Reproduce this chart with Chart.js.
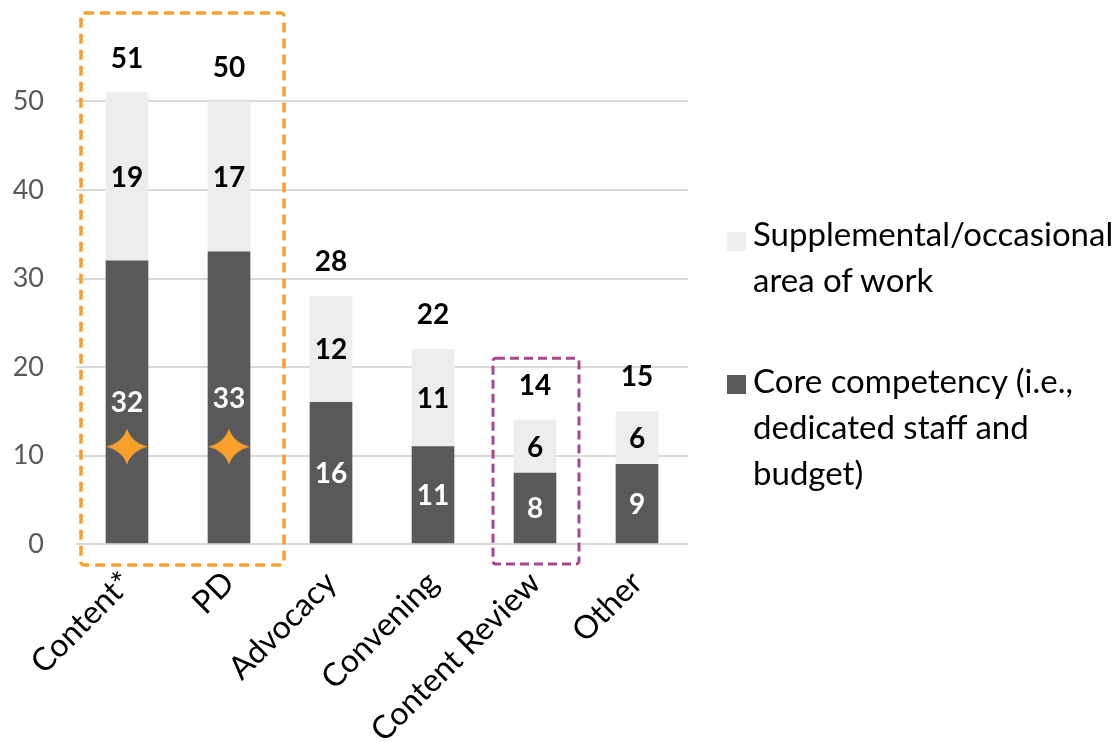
<!DOCTYPE html>
<html>
<head>
<meta charset="utf-8">
<title>Areas of work</title>
<script src="https://cdn.jsdelivr.net/npm/chart.js@4.4.1/dist/chart.umd.min.js"></script>
<style>
  body { margin: 0; background: #fff; }
  #wrap { position: relative; width: 1118px; height: 742px; }
  #legend { position: absolute; left: 0; top: 0; font-family: Lato, sans-serif; font-size: 33px; color: #000; }
  .item { position: absolute; left: 753px; line-height: 46px; white-space: nowrap; }
  .swatch { position: absolute; left: 727px; width: 19px; height: 19px; }
</style>
</head>
<body>
<div id="wrap">
  <canvas id="chart"></canvas>
  <div id="legend"></div>
</div>
<script>
// Data
const categories = ["Content*", "PD", "Advocacy", "Convening", "Content Review", "Other"];
const coreValues = [32, 33, 16, 11, 8, 9];
const supplementalValues = [19, 17, 12, 11, 6, 6];
const totalValues = [51, 50, 28, 22, 14, 15];
const starValues = [11, 11, null, null, null, null];
const yTicks = [0, 10, 20, 30, 40, 50];
const supplementalLabel = ["Supplemental/occasional", "area of work"];
const coreLabel = ["Core competency (i.e.,", "dedicated staff and", "budget)"];

const FONT = "Lato, sans-serif";
const DARK = "#595959";
const LIGHT = "#EDEDED";
const ORANGE = "#F7A02C";
const PURPLE = "#A8468F";

// four-pointed star used as point image
function makeStar(w, h, color) {
  const c = document.createElement("canvas");
  c.width = w;
  c.height = h;
  const ctx = c.getContext("2d");
  const cx = w / 2, cy = h / 2;
  const a = w * 0.11, b = h * 0.11;
  ctx.fillStyle = color;
  ctx.beginPath();
  ctx.moveTo(cx, 0);
  ctx.quadraticCurveTo(cx + a, cy - b, w, cy);
  ctx.quadraticCurveTo(cx + a, cy + b, cx, h);
  ctx.quadraticCurveTo(cx - a, cy + b, 0, cy);
  ctx.quadraticCurveTo(cx - a, cy - b, cx, 0);
  ctx.fill();
  return c;
}

// value labels inside segments and totals on top
const barLabels = {
  id: "barLabels",
  afterDatasetsDraw(chart) {
    const ctx = chart.ctx;
    const y = chart.scales.y;
    ctx.save();
    ctx.font = `bold 28px ${FONT}`;
    ctx.textAlign = "center";
    ctx.textBaseline = "middle";
    chart.data.datasets.forEach((ds, di) => {
      if (!ds.labelColor) return;
      chart.getDatasetMeta(di).data.forEach((bar, i) => {
        const p = bar.getProps(["x", "y", "base"], true);
        ctx.fillStyle = ds.labelColor;
        ctx.fillText(ds.data[i], p.x, (p.y + p.base) / 2 + 1);
      });
    });
    const meta = chart.getDatasetMeta(0);
    ctx.fillStyle = "#000";
    totalValues.forEach((t, i) => {
      ctx.fillText(t, meta.data[i].x, y.getPixelForValue(t) - 34);
    });
    ctx.restore();
  }
};

// dashed highlight boxes
const boxes = [
  { from: 0, to: 1, top: 60, color: ORANGE, left: 46, right: 55, bottom: 21, width: 3.5, dash: [10, 6] },
  { from: 4, to: 4, top: 21, color: PURPLE, left: 42, right: 44, bottom: 20, width: 3, dash: [9, 5] }
];
const highlightBoxes = {
  id: "highlightBoxes",
  afterDraw(chart) {
    const { ctx, scales: { x, y } } = chart;
    ctx.save();
    boxes.forEach(b => {
      const x0 = x.getPixelForValue(b.from) - b.left;
      const x1 = x.getPixelForValue(b.to) + b.right;
      const y0 = y.getPixelForValue(b.top);
      const y1 = y.getPixelForValue(0) + b.bottom;
      ctx.strokeStyle = b.color;
      ctx.lineWidth = b.width;
      ctx.setLineDash(b.dash);
      ctx.beginPath();
      ctx.roundRect(x0, y0, x1 - x0, y1 - y0, 3);
      ctx.stroke();
    });
    ctx.restore();
  }
};

const ctx = document.getElementById("chart").getContext("2d");
const chart = new Chart(ctx, {
  type: "bar",
  data: {
    labels: categories,
    datasets: [
      {
        label: coreLabel.join(" "),
        data: coreValues,
        backgroundColor: DARK,
        labelColor: "#fff",
        barThickness: 42,
        order: 1
      },
      {
        label: supplementalLabel.join(" "),
        data: supplementalValues,
        backgroundColor: LIGHT,
        labelColor: "#000",
        barThickness: 42,
        order: 1
      },
      {
        type: "line",
        label: "star",
        data: starValues,
        showLine: false,
        stack: "stars",
        pointStyle: makeStar(42, 36, ORANGE),
        order: 0
      }
    ]
  },
  options: {
    responsive: true,
    maintainAspectRatio: false,
    animation: false,
    events: [],
    layout: { padding: { top: 13, right: 430, bottom: 0, left: 0 } },
    plugins: {
      legend: { display: false },
      tooltip: { enabled: false }
    },
    scales: {
      x: {
        stacked: true,
        grid: { display: false, drawTicks: false },
        border: { display: false },
        ticks: {
          autoSkip: false,
          minRotation: 45,
          maxRotation: 45,
          padding: 20,
          color: "#000",
          font: { family: FONT, size: 32 }
        },
        afterFit: scale => { scale.height = 198; }
      },
      y: {
        stacked: true,
        min: 0,
        max: 60,
        // transparent tick marks keep the labels away from the plot
        grid: { color: "#D9D9D9", lineWidth: 2, drawTicks: true, tickLength: 32, tickColor: "rgba(0,0,0,0)" },
        border: { display: false },
        ticks: {
          padding: 0,
          color: DARK,
          font: { family: FONT, size: 27, lineHeight: 0.9 }
        },
        afterBuildTicks: scale => { scale.ticks = yTicks.map(v => ({ value: v })); },
        afterFit: scale => { scale.width = 76; }
      }
    }
  },
  plugins: [barLabels, highlightBoxes]
});

// legend (supplemental first, like the original)
const legendEl = document.getElementById("legend");
const legendItems = [
  { lines: supplementalLabel, color: LIGHT, top: 210, swatch: 232 },
  { lines: coreLabel, color: DARK, top: 357, swatch: 375 }
];
legendItems.forEach(item => {
  const sw = document.createElement("div");
  sw.className = "swatch";
  sw.style.top = item.swatch + "px";
  sw.style.background = item.color;
  legendEl.appendChild(sw);
  const txt = document.createElement("div");
  txt.className = "item";
  txt.style.top = item.top + "px";
  txt.innerHTML = item.lines.map(l => `<div>${l}</div>`).join("");
  legendEl.appendChild(txt);
});
</script>
</body>
</html>
